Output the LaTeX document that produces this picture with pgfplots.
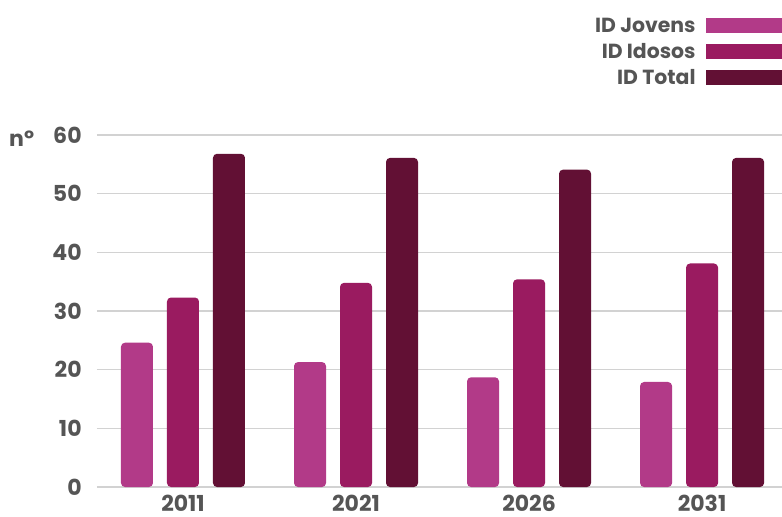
\documentclass[border=0pt]{standalone}
\usepackage{pgfplots}
\usepackage{pgfplotstable}
\pgfplotsset{compat=1.18}
\usepackage{fontspec}
\setmainfont{Poppins}
\definecolor{cJ}{HTML}{B23A88}
\definecolor{cI}{HTML}{9A1B60}
\definecolor{cT}{HTML}{621034}
\definecolor{txt}{HTML}{555555}
\definecolor{grd}{HTML}{D2D2D2}
\pgfplotstableread{
x J I T
0 24.6 32.3 56.8
1 21.3 34.8 56.1
2 18.7 35.4 54.1
3 17.9 38.1 56.1
}\data
\begin{document}
\begin{tikzpicture}
\useasboundingbox (-48.5pt,-14.5pt) rectangle (342.5pt,243.5pt);
\begin{axis}[
  at={(0,0)}, anchor=south west,
  scale only axis, width=342.5pt, height=176pt,
  xmin=-0.497, xmax=3.462, ymin=0, ymax=60,
  ybar=7pt, bar width=16pt,
  axis line style={draw=none},
  major tick length=0pt,
  ytick={0,10,...,60},
  ymajorgrids, grid style={grd, line width=0.75pt},
  xtick={0,1,2,3}, xticklabels={2011,2021,2026,2031},
  /pgf/number format/assume math mode=true,
  tick label style={font=\fontsize{11}{13}\selectfont\bfseries, text=txt},
  yticklabel style={inner sep=0pt, xshift=-7.5pt},
  xticklabel style={inner sep=0pt, yshift=-4pt, text depth=0pt},
  ylabel={nº},
  every axis y label/.style={at={(rel axis cs:-0.11,0.99)}, anchor=center, font=\fontsize{11}{13}\selectfont\bfseries, text=txt},
  every axis plot post/.append style={draw=none, rounded corners=2pt,
    legend image code/.code={\fill[##1, sharp corners] (0pt,-3.75pt) rectangle (38pt,3.75pt);}},
  legend style={draw=none, fill=none, at={(1,1.334)}, anchor=north east,
    inner sep=0pt, row sep=5.5pt, legend cell align=right,
    font=\fontsize{10.2}{12}\selectfont\bfseries, text=txt,
    nodes={inner sep=0pt, text height=7.2pt, text depth=0pt},
    /tikz/every odd column/.append style={column sep=5pt}},
  legend plot pos=right,
]
\addplot[fill=cJ] table[x=x, y=J] {\data};
\addplot[fill=cI] table[x=x, y=I] {\data};
\addplot[fill=cT] table[x=x, y=T] {\data};
\legend{ID Jovens, ID Idosos, ID Total}
\end{axis}
\end{tikzpicture}
\end{document}
